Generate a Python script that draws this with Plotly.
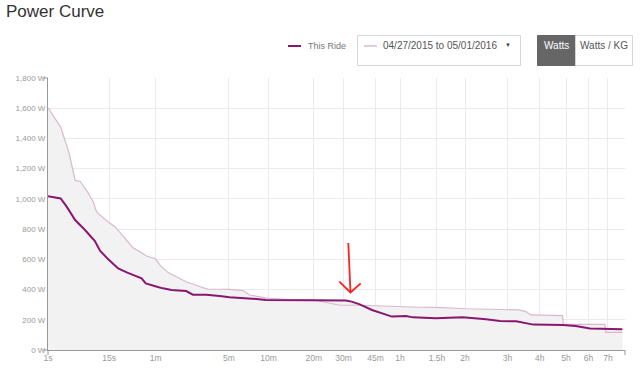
import plotly.graph_objects as go

# ---- data (seconds, watts) ----
range_t = [1, 2, 3, 4, 5, 7, 8.4, 9.6, 10.9, 15.4, 18.3, 26.5, 32, 39, 47, 60, 67, 81, 125, 167, 198, 251,
           303, 388, 436, 600, 803, 1200, 1570, 1720, 2226, 2832, 3600, 4490, 5347, 7272, 12019, 12762,
           13335, 17477, 17630, 24600, 24777, 28140]
range_w = [1603, 1475, 1310, 1122, 1115, 1037, 981, 915, 893, 838, 816, 728, 677, 651, 622, 602, 562, 514, 452, 420, 403, 402,
           401, 393, 364, 342, 335, 331, 304, 296, 296, 291, 286, 283, 282, 273, 265, 254,
           232, 227, 170, 170, 117, 117]

ride_t = [1, 2, 2.7, 4, 6.1, 9, 10.9, 14.6, 20.3, 25, 27, 41, 43, 46, 62, 72, 89, 125, 145, 192, 251,
          303, 490, 515, 576, 1200, 1858, 2000, 2220, 2583, 2832, 3276, 3857, 4150, 5347, 7028, 8834,
          10083, 11700, 13623, 17500, 19510, 21878, 28140]
ride_w = [1017, 1003, 949, 860, 794, 721, 657, 600, 540, 516, 512, 474, 463, 441, 419, 408, 397, 390, 366, 366, 357,
          349, 338, 336, 331, 329, 328, 320, 302, 265, 247, 221, 225, 216, 210, 216, 203,
          192, 190, 168, 165, 159, 143, 137]

tick_secs = [1, 15, 60, 300, 600, 1200, 1800, 2700, 3600, 5400, 7200, 10800, 14400, 18000, 21600, 25200]
tick_text = ["1s", "15s", "1m", "5m", "10m", "20m", "30m", "45m", "1h", "1.5h", "2h", "3h", "4h", "5h", "6h", "7h"]
y_ticks = [0, 200, 400, 600, 800, 1000, 1200, 1400, 1600, 1800]
y_text = [f"{v:,} W" for v in y_ticks]

P = 0.2  # power scale exponent used by the x axis
def sx(v):
    return [t ** P for t in v]

DARK = "#8a1670"
LIGHT = "#dbb7cf"
FILL = "#f2f2f2"

fig = go.Figure()
fig.add_trace(go.Scatter(x=sx(range_t), y=range_w, mode="lines", line=dict(width=0, color=FILL),
                         fill="tozeroy", fillcolor=FILL, hoverinfo="skip", showlegend=False))
fig.add_trace(go.Scatter(x=sx(ride_t), y=ride_w, mode="lines", line=dict(width=0, color=FILL),
                         fill="tozeroy", fillcolor=FILL, hoverinfo="skip", showlegend=False))
fig.add_trace(go.Scatter(x=sx(range_t), y=range_w, mode="lines", line=dict(width=1.2, color=LIGHT),
                         name="04/27/2015 to 05/01/2016", showlegend=False))
fig.add_trace(go.Scatter(x=sx(ride_t), y=ride_w, mode="lines", line=dict(width=2, color=DARK),
                         name="This Ride", showlegend=False))

W, H = 640, 370
L, R, T, B = 48, 15, 78, 20
pw, ph = W - L - R, H - T - B

def px(x):
    return (x - L) / pw
def py(y):
    return (H - B - y) / ph

shapes = []
ann = []
# axis end ticks (d3 style)
shapes.append(dict(type="line", xref="paper", yref="paper", x0=px(43), x1=px(48), y0=py(78), y1=py(78),
                   line=dict(color="#999", width=1)))
shapes.append(dict(type="line", xref="paper", yref="paper", x0=px(43), x1=px(48), y0=py(350), y1=py(350),
                   line=dict(color="#999", width=1)))
shapes.append(dict(type="line", xref="paper", yref="paper", x0=px(48), x1=px(48), y0=py(350), y1=py(355),
                   line=dict(color="#999", width=1)))
shapes.append(dict(type="line", xref="paper", yref="paper", x0=px(625), x1=px(625), y0=py(350), y1=py(355),
                   line=dict(color="#999", width=1)))

# red hand-drawn arrow
RED = "#ff2020"
shapes.append(dict(type="line", xref="paper", yref="paper", x0=px(348.3), y0=py(243), x1=px(350.5), y1=py(292.5),
                   line=dict(color=RED, width=1.8)))
shapes.append(dict(type="path", xref="paper", yref="paper",
                   path=f"M {px(339.3)} {py(281.7)} L {px(350.5)} {py(292.5)} L {px(360.7)} {py(283.3)}",
                   line=dict(color=RED, width=1.8)))

# legend: This Ride
shapes.append(dict(type="line", xref="paper", yref="paper", x0=px(288), x1=px(301), y0=py(46), y1=py(46),
                   line=dict(color=DARK, width=2)))
ann.append(dict(xref="paper", yref="paper", x=px(306), y=py(46), text="This Ride", showarrow=False,
                xanchor="left", yanchor="middle", font=dict(size=9, color="#777")))
# dropdown box
shapes.append(dict(type="rect", xref="paper", yref="paper", x0=px(357.5), x1=px(520.5), y0=py(35.5), y1=py(65.5),
                   line=dict(color="#d6d6d6", width=1), fillcolor="white"))
shapes.append(dict(type="line", xref="paper", yref="paper", x0=px(364), x1=px(377), y0=py(46), y1=py(46),
                   line=dict(color=LIGHT, width=1.5)))
ann.append(dict(xref="paper", yref="paper", x=px(381), y=py(46), text="04/27/2015 to 05/01/2016", showarrow=False,
                xanchor="left", yanchor="middle", font=dict(size=10, color="#555")))
ann.append(dict(xref="paper", yref="paper", x=px(508), y=py(45), text="▼", showarrow=False,
                xanchor="center", yanchor="middle", font=dict(size=6, color="#444")))
# Watts buttons
shapes.append(dict(type="rect", xref="paper", yref="paper", x0=px(537.5), x1=px(575.5), y0=py(35.5), y1=py(65.5),
                   line=dict(color="#666", width=1), fillcolor="#666666"))
shapes.append(dict(type="rect", xref="paper", yref="paper", x0=px(575.5), x1=px(632.5), y0=py(35.5), y1=py(65.5),
                   line=dict(color="#d6d6d6", width=1), fillcolor="white"))
ann.append(dict(xref="paper", yref="paper", x=px(556.5), y=py(46), text="Watts", showarrow=False,
                xanchor="center", yanchor="middle", font=dict(size=10, color="white")))
ann.append(dict(xref="paper", yref="paper", x=px(604), y=py(46), text="Watts / KG", showarrow=False,
                xanchor="center", yanchor="middle", font=dict(size=10, color="#555")))

fig.update_layout(
    width=W, height=H,
    margin=dict(l=L, r=R, t=T, b=B, autoexpand=False),
    paper_bgcolor="white", plot_bgcolor="white",
    font=dict(family="Liberation Sans, Arial, sans-serif", color="#999"),
    title=dict(text="Power Curve", xref="container", yref="container", x=6 / W, y=1 - 5 / H,
               xanchor="left", yanchor="top", font=dict(size=17, color="#333")),
    shapes=shapes, annotations=ann,
    showlegend=False,
    xaxis=dict(range=[1, 7.791], tickvals=sx(tick_secs), ticktext=tick_text, showgrid=True,
               gridcolor="#ebebeb", gridwidth=1, showline=True, linecolor="#999", linewidth=1,
               ticks="", tickfont=dict(size=8.5, color="#999"), zeroline=False, fixedrange=True,
               automargin=False),
    yaxis=dict(range=[0, 1800], tickvals=y_ticks, ticktext=y_text, showgrid=True,
               gridcolor="#ebebeb", gridwidth=1, showline=True, linecolor="#999", linewidth=1,
               ticks="", tickfont=dict(size=8, color="#999"), zeroline=False, fixedrange=True,
               automargin=False),
)

fig.write_html("out.html", config={"displayModeBar": False},
               post_script="document.body.style.margin='0px';document.body.style.padding='0px';")
